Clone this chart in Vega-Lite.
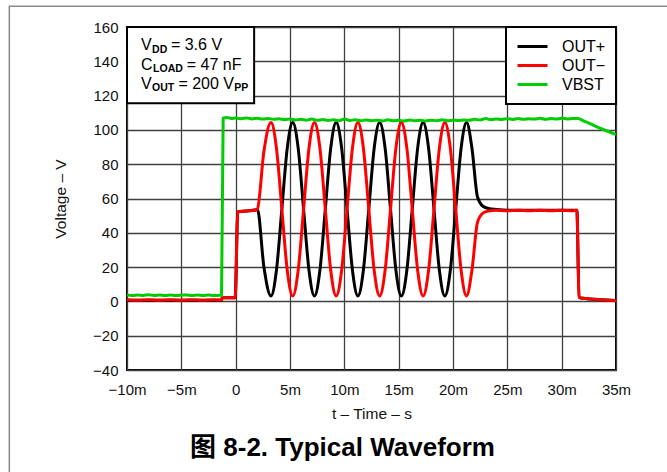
{
  "$schema": "https://vega.github.io/schema/vega-lite/v6.json",
  "autosize": {"type": "none"},
  "padding": {"left": 127, "top": 27, "right": 51, "bottom": 102},
  "width": 489,
  "height": 343,
  "background": "white",
  "title": {
    "text": "图 8-2. Typical Waveform",
    "orient": "bottom",
    "anchor": "middle",
    "frame": "group",
    "dx": -29,
    "offset": -40,
    "font": "Liberation Sans, Noto Sans CJK SC",
    "fontSize": 26,
    "fontWeight": "bold",
    "color": "#000"
  },
  "config": {
    "font": "Liberation Sans",
    "view": {"stroke": "#000", "strokeWidth": 2},
    "axis": {
      "labelFont": "Liberation Sans",
      "labelFontSize": 15,
      "labelColor": "#111",
      "labelOverlap": false,
      "labelBound": false,
      "labelFlush": false,
      "titleFont": "Liberation Sans",
      "titleFontSize": 15.5,
      "titleFontWeight": "normal",
      "titleColor": "#111",
      "ticks": false,
      "tickSize": 0,
      "domain": false,
      "grid": true,
      "gridColor": "#404040",
      "gridWidth": 1.3,
      "gridOpacity": 1
    },
    "legend": {"strokeWidth": 2}
  },
  "datasets": {
    "wave": [
      {"s":"OUT+","t":-10,"v":0.6},{"s":"OUT+","t":-6,"v":0.6},{"s":"OUT+","t":-1.3,"v":0.6},{"s":"OUT+","t":-1.25,"v":2.1},{"s":"OUT+","t":-0.05,"v":2.1},{"s":"OUT+","t":0.2,"v":52.3},{"s":"OUT+","t":1,"v":52.7},{"s":"OUT+","t":1.9,"v":53.4},{"s":"OUT+","t":2.0,"v":53.8},
      {"s":"OUT+","t":2.6,"v":20},{"s":"OUT+","t":3.25,"v":3.2},{"s":"OUT+","t":3.75,"v":18},{"s":"OUT+","t":4.25,"v":53.8},{"s":"OUT+","t":4.75,"v":89.5},{"s":"OUT+","t":5.25,"v":104.3},{"s":"OUT+","t":5.75,"v":89.5},{"s":"OUT+","t":6.25,"v":53.8},{"s":"OUT+","t":6.75,"v":18},
      {"s":"OUT+","t":7.25,"v":3.2},{"s":"OUT+","t":7.75,"v":18},{"s":"OUT+","t":8.25,"v":53.8},{"s":"OUT+","t":8.75,"v":89.5},{"s":"OUT+","t":9.25,"v":104.3},{"s":"OUT+","t":9.75,"v":89.5},{"s":"OUT+","t":10.25,"v":53.8},{"s":"OUT+","t":10.75,"v":18},
      {"s":"OUT+","t":11.25,"v":3.2},{"s":"OUT+","t":11.75,"v":18},{"s":"OUT+","t":12.25,"v":53.8},{"s":"OUT+","t":12.75,"v":89.5},{"s":"OUT+","t":13.25,"v":104.3},{"s":"OUT+","t":13.75,"v":89.5},{"s":"OUT+","t":14.25,"v":53.8},{"s":"OUT+","t":14.75,"v":18},
      {"s":"OUT+","t":15.25,"v":3.2},{"s":"OUT+","t":15.75,"v":18},{"s":"OUT+","t":16.25,"v":53.8},{"s":"OUT+","t":16.75,"v":89.5},{"s":"OUT+","t":17.25,"v":104.3},{"s":"OUT+","t":17.75,"v":89.5},{"s":"OUT+","t":18.25,"v":53.8},{"s":"OUT+","t":18.75,"v":18},
      {"s":"OUT+","t":19.25,"v":3.2},{"s":"OUT+","t":19.75,"v":18},{"s":"OUT+","t":20.25,"v":53.8},{"s":"OUT+","t":20.75,"v":89.5},{"s":"OUT+","t":21.25,"v":104.3},{"s":"OUT+","t":21.75,"v":89},{"s":"OUT+","t":22.25,"v":61},{"s":"OUT+","t":22.75,"v":55.5},{"s":"OUT+","t":23.25,"v":54.2},{"s":"OUT+","t":24,"v":53.6},{"s":"OUT+","t":25,"v":53.2},{"s":"OUT+","t":31.4,"v":53.2},{"s":"OUT+","t":31.6,"v":2.2},{"s":"OUT+","t":32,"v":1.8},{"s":"OUT+","t":35,"v":0.5},

      {"s":"OUT−","t":-10,"v":0.9},{"s":"OUT−","t":-9,"v":0.6},{"s":"OUT−","t":-8,"v":1.0},{"s":"OUT−","t":-7,"v":0.7},{"s":"OUT−","t":-6,"v":0.9},{"s":"OUT−","t":-5,"v":0.6},{"s":"OUT−","t":-4,"v":1.0},{"s":"OUT−","t":-3,"v":0.7},{"s":"OUT−","t":-2,"v":0.9},{"s":"OUT−","t":-1.3,"v":0.8},{"s":"OUT−","t":-1.25,"v":2.2},{"s":"OUT−","t":-0.05,"v":2.2},{"s":"OUT−","t":0.2,"v":52.3},{"s":"OUT−","t":1,"v":52.7},{"s":"OUT−","t":1.9,"v":53.4},{"s":"OUT−","t":2.0,"v":53.8},
      {"s":"OUT−","t":2.6,"v":87.5},{"s":"OUT−","t":3.25,"v":104.3},{"s":"OUT−","t":3.75,"v":89.5},{"s":"OUT−","t":4.25,"v":53.8},{"s":"OUT−","t":4.75,"v":18},{"s":"OUT−","t":5.25,"v":3.2},{"s":"OUT−","t":5.75,"v":18},{"s":"OUT−","t":6.25,"v":53.8},{"s":"OUT−","t":6.75,"v":89.5},
      {"s":"OUT−","t":7.25,"v":104.3},{"s":"OUT−","t":7.75,"v":89.5},{"s":"OUT−","t":8.25,"v":53.8},{"s":"OUT−","t":8.75,"v":18},{"s":"OUT−","t":9.25,"v":3.2},{"s":"OUT−","t":9.75,"v":18},{"s":"OUT−","t":10.25,"v":53.8},{"s":"OUT−","t":10.75,"v":89.5},
      {"s":"OUT−","t":11.25,"v":104.3},{"s":"OUT−","t":11.75,"v":89.5},{"s":"OUT−","t":12.25,"v":53.8},{"s":"OUT−","t":12.75,"v":18},{"s":"OUT−","t":13.25,"v":3.2},{"s":"OUT−","t":13.75,"v":18},{"s":"OUT−","t":14.25,"v":53.8},{"s":"OUT−","t":14.75,"v":89.5},
      {"s":"OUT−","t":15.25,"v":104.3},{"s":"OUT−","t":15.75,"v":89.5},{"s":"OUT−","t":16.25,"v":53.8},{"s":"OUT−","t":16.75,"v":18},{"s":"OUT−","t":17.25,"v":3.2},{"s":"OUT−","t":17.75,"v":18},{"s":"OUT−","t":18.25,"v":53.8},{"s":"OUT−","t":18.75,"v":89.5},
      {"s":"OUT−","t":19.25,"v":104.3},{"s":"OUT−","t":19.75,"v":89.5},{"s":"OUT−","t":20.25,"v":53.8},{"s":"OUT−","t":20.75,"v":18},{"s":"OUT−","t":21.25,"v":3.2},{"s":"OUT−","t":21.75,"v":18.5},{"s":"OUT−","t":22.25,"v":46},{"s":"OUT−","t":22.75,"v":51.5},{"s":"OUT−","t":23.25,"v":52.7},{"s":"OUT−","t":24,"v":53.1},{"s":"OUT−","t":25,"v":52.8},{"s":"OUT−","t":26,"v":53.2},{"s":"OUT−","t":27,"v":52.8},{"s":"OUT−","t":28,"v":53.1},{"s":"OUT−","t":29,"v":52.9},{"s":"OUT−","t":30,"v":53.2},{"s":"OUT−","t":31,"v":52.9},{"s":"OUT−","t":31.4,"v":53.1},{"s":"OUT−","t":31.6,"v":2.8},{"s":"OUT−","t":31.8,"v":2.0},{"s":"OUT−","t":33,"v":1.3},{"s":"OUT−","t":35,"v":0.4},

      {"s":"VBST","t":-10,"v":3.8},{"s":"VBST","t":-9.5,"v":3.4},{"s":"VBST","t":-9,"v":3.7},{"s":"VBST","t":-8.5,"v":3.5},{"s":"VBST","t":-8,"v":3.9},{"s":"VBST","t":-7.5,"v":3.4},{"s":"VBST","t":-7,"v":3.7},{"s":"VBST","t":-6.5,"v":3.5},{"s":"VBST","t":-6,"v":3.8},{"s":"VBST","t":-5.5,"v":3.4},{"s":"VBST","t":-5,"v":3.6},{"s":"VBST","t":-4.5,"v":3.8},{"s":"VBST","t":-4,"v":3.4},{"s":"VBST","t":-3.5,"v":3.7},{"s":"VBST","t":-3,"v":3.5},{"s":"VBST","t":-2.5,"v":3.8},{"s":"VBST","t":-2,"v":3.4},{"s":"VBST","t":-1.5,"v":3.6},{"s":"VBST","t":-1.3,"v":3.6},
      {"s":"VBST","t":-1.15,"v":106.8},{"s":"VBST","t":-0.8,"v":107.3},{"s":"VBST","t":-0.4,"v":106.6},{"s":"VBST","t":0,"v":106.9},{"s":"VBST","t":0.5,"v":106.5},{"s":"VBST","t":1,"v":107},{"s":"VBST","t":1.5,"v":106.4},{"s":"VBST","t":2,"v":106.8},{"s":"VBST","t":2.5,"v":106.3},{"s":"VBST","t":3,"v":106.7},{"s":"VBST","t":3.5,"v":106.2},{"s":"VBST","t":4,"v":106.5},{"s":"VBST","t":4.5,"v":106},{"s":"VBST","t":5,"v":106.4},{"s":"VBST","t":5.5,"v":105.8},{"s":"VBST","t":6,"v":106.2},{"s":"VBST","t":6.5,"v":105.7},{"s":"VBST","t":7,"v":106.3},{"s":"VBST","t":7.5,"v":105.6},{"s":"VBST","t":8,"v":106},{"s":"VBST","t":8.5,"v":105.5},{"s":"VBST","t":9,"v":105.9},{"s":"VBST","t":9.5,"v":105.4},{"s":"VBST","t":10,"v":106.4},{"s":"VBST","t":10.5,"v":105.5},{"s":"VBST","t":11,"v":105.9},{"s":"VBST","t":11.5,"v":105.3},{"s":"VBST","t":12,"v":105.8},{"s":"VBST","t":12.5,"v":105.4},{"s":"VBST","t":13,"v":105.7},{"s":"VBST","t":13.5,"v":105.2},{"s":"VBST","t":14,"v":105.9},{"s":"VBST","t":14.5,"v":105.3},{"s":"VBST","t":15,"v":105.6},{"s":"VBST","t":15.5,"v":105.2},{"s":"VBST","t":16,"v":105.8},{"s":"VBST","t":16.5,"v":105.3},{"s":"VBST","t":17,"v":105.6},{"s":"VBST","t":17.5,"v":105.2},{"s":"VBST","t":18,"v":105.7},{"s":"VBST","t":18.5,"v":105.4},{"s":"VBST","t":19,"v":105.9},{"s":"VBST","t":19.5,"v":105.3},{"s":"VBST","t":20,"v":105.7},{"s":"VBST","t":20.5,"v":105.5},{"s":"VBST","t":21,"v":105.8},{"s":"VBST","t":21.5,"v":105.6},{"s":"VBST","t":22,"v":106.2},{"s":"VBST","t":22.5,"v":105.8},{"s":"VBST","t":23,"v":106.6},{"s":"VBST","t":23.5,"v":106},{"s":"VBST","t":24,"v":106.4},{"s":"VBST","t":24.5,"v":106.1},{"s":"VBST","t":25,"v":106.5},{"s":"VBST","t":25.5,"v":106.1},{"s":"VBST","t":26,"v":106.6},{"s":"VBST","t":26.5,"v":106.2},{"s":"VBST","t":27,"v":106.5},{"s":"VBST","t":27.5,"v":106.3},{"s":"VBST","t":28,"v":106.8},{"s":"VBST","t":28.5,"v":106.2},{"s":"VBST","t":29,"v":106.6},{"s":"VBST","t":29.5,"v":106.3},{"s":"VBST","t":30,"v":106.8},{"s":"VBST","t":30.5,"v":106.4},{"s":"VBST","t":31,"v":106.7},{"s":"VBST","t":31.5,"v":106.6},{"s":"VBST","t":32,"v":105.3},{"s":"VBST","t":32.5,"v":104},{"s":"VBST","t":33,"v":102.5},{"s":"VBST","t":33.5,"v":101.1},{"s":"VBST","t":34,"v":99.8},{"s":"VBST","t":34.5,"v":98.5},{"s":"VBST","t":35,"v":97.3}
    ],
    "notes": [
      {"t":-8.71,"v":146.4,"text":"V","kind":"main"},
      {"t":-5.96,"v":146.4,"text":"= 3.6 V","kind":"main"},
      {"t":-8.71,"v":135.2,"text":"C","kind":"main"},
      {"t":-4.5,"v":135.2,"text":"= 47 nF","kind":"main"},
      {"t":-8.71,"v":124.1,"text":"V","kind":"main"},
      {"t":-5.27,"v":124.1,"text":"= 200 V","kind":"main"},
      {"t":-7.69,"v":146.4,"text":"DD","kind":"sub"},
      {"t":-7.6,"v":135.2,"text":"LOAD","kind":"sub"},
      {"t":-7.69,"v":124.1,"text":"OUT","kind":"sub"},
      {"t":-0.14,"v":124.1,"text":"PP","kind":"sub"}
    ]
  },
  "layer": [
    {
      "data": {"values": [{}]},
      "mark": {"type": "rect", "fill": null, "fillOpacity": 0, "stroke": "#8a8a8a", "strokeWidth": 1.5},
      "encoding": {
        "x": {"datum": -20.83, "type": "quantitative", "scale": {"domain": [-10, 35], "nice": false, "zero": false},
          "axis": {"title": "t – Time – s", "values": [-10,-5,0,5,10,15,20,25,30,35], "labelOverlap": false, "labelFlush": false, "labelExpr": "datum.value == 0 ? '0' : replace(format(datum.value, 'd'), '-', '−') + 'm'", "labelPadding": 12, "titlePadding": 9}},
        "x2": {"datum": 45},
        "y": {"datum": 172.05, "type": "quantitative", "scale": {"domain": [-40, 160], "nice": false, "zero": false},
          "axis": {"title": "Voltage – V", "tickCount": 11, "values": [-40,-20,0,20,40,60,80,100,120,140,160], "labelOverlap": false, "labelFlush": false, "labelExpr": "replace(format(datum.value, 'd'), '-', '−')", "labelPadding": 9, "titlePadding": 24}},
        "y2": {"datum": -100.5}
      }
    },
    {
      "data": {"name": "wave"},
      "transform": [{"filter": "datum.s == 'OUT+'"}],
      "mark": {"type": "line", "interpolate": "monotone", "strokeWidth": 3},
      "encoding": {
        "x": {"field": "t", "type": "quantitative", "scale": {"domain": [-10, 35], "nice": false, "zero": false},
          "axis": {"title": "t – Time – s", "values": [-10,-5,0,5,10,15,20,25,30,35], "labelOverlap": false, "labelFlush": false, "labelExpr": "datum.value == 0 ? '0' : replace(format(datum.value, 'd'), '-', '−') + 'm'", "labelPadding": 12, "titlePadding": 9}},
        "y": {"field": "v", "type": "quantitative", "scale": {"domain": [-40, 160], "nice": false, "zero": false},
          "axis": {"title": "Voltage – V", "tickCount": 11, "values": [-40,-20,0,20,40,60,80,100,120,140,160], "labelOverlap": false, "labelFlush": false, "labelExpr": "replace(format(datum.value, 'd'), '-', '−')", "labelPadding": 9, "titlePadding": 24}},
        "color": {"field": "s", "type": "nominal",
          "scale": {"domain": ["OUT+", "OUT−", "VBST"], "range": ["#000000", "#ff0000", "#00cc00"]},
          "legend": {"title": null, "orient": "top-right", "offset": 0, "symbolType": "stroke", "symbolSize": 900, "symbolStrokeWidth": 3, "labelFont": "Liberation Sans", "labelFontSize": 16, "labelColor": "#000", "labelOffset": 13, "padding": 10, "strokeColor": "#000", "fillColor": "#fff", "clipHeight": 19, "rowPadding": 0}}
      }
    },
    {
      "data": {"name": "wave"},
      "transform": [{"filter": "datum.s == 'OUT−'"}],
      "mark": {"type": "line", "interpolate": "monotone", "strokeWidth": 3},
      "encoding": {
        "x": {"field": "t", "type": "quantitative", "scale": {"domain": [-10, 35], "nice": false, "zero": false}},
        "y": {"field": "v", "type": "quantitative", "scale": {"domain": [-40, 160], "nice": false, "zero": false}},
        "color": {"field": "s", "type": "nominal", "scale": {"domain": ["OUT+", "OUT−", "VBST"], "range": ["#000000", "#ff0000", "#00cc00"]}}
      }
    },
    {
      "data": {"name": "wave"},
      "transform": [{"filter": "datum.s == 'VBST'"}],
      "mark": {"type": "line", "interpolate": "monotone", "strokeWidth": 3},
      "encoding": {
        "x": {"field": "t", "type": "quantitative", "scale": {"domain": [-10, 35], "nice": false, "zero": false}},
        "y": {"field": "v", "type": "quantitative", "scale": {"domain": [-40, 160], "nice": false, "zero": false}},
        "color": {"field": "s", "type": "nominal", "scale": {"domain": ["OUT+", "OUT−", "VBST"], "range": ["#000000", "#ff0000", "#00cc00"]}}
      }
    },
    {
      "data": {"values": [{}]},
      "mark": {"type": "rect", "fill": "#ffffff", "stroke": "#000000", "strokeWidth": 2},
      "encoding": {
        "x": {"datum": -10, "type": "quantitative", "scale": {"domain": [-10, 35], "nice": false, "zero": false}},
        "x2": {"datum": 1.7},
        "y": {"datum": 160, "type": "quantitative", "scale": {"domain": [-40, 160], "nice": false, "zero": false}},
        "y2": {"datum": 115.6}
      }
    },
    {
      "data": {"name": "notes"},
      "transform": [{"filter": "datum.kind == 'main'"}],
      "mark": {"type": "text", "align": "left", "baseline": "alphabetic", "font": "Liberation Sans", "fontSize": 16, "color": "#000"},
      "encoding": {
        "x": {"field": "t", "type": "quantitative", "scale": {"domain": [-10, 35], "nice": false, "zero": false}},
        "y": {"field": "v", "type": "quantitative", "scale": {"domain": [-40, 160], "nice": false, "zero": false}},
        "text": {"field": "text"}
      }
    },
    {
      "data": {"name": "notes"},
      "transform": [{"filter": "datum.kind == 'sub'"}],
      "mark": {"type": "text", "align": "left", "baseline": "alphabetic", "font": "Liberation Sans", "fontSize": 10.5, "fontWeight": "bold", "dy": 2.5, "color": "#000"},
      "encoding": {
        "x": {"field": "t", "type": "quantitative", "scale": {"domain": [-10, 35], "nice": false, "zero": false}},
        "y": {"field": "v", "type": "quantitative", "scale": {"domain": [-40, 160], "nice": false, "zero": false}},
        "text": {"field": "text"}
      }
    }
  ]
}
